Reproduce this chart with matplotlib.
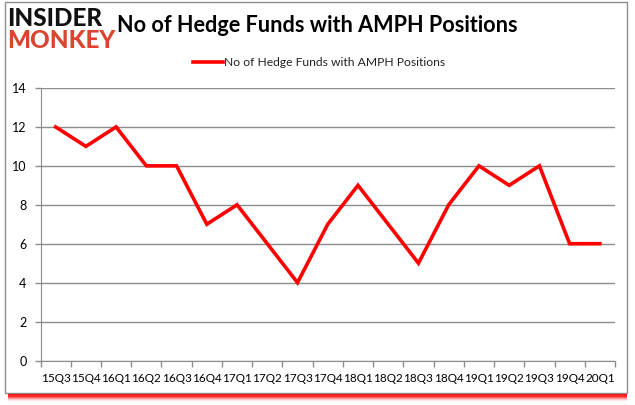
import matplotlib
matplotlib.use("Agg")
import matplotlib.pyplot as plt
from matplotlib.patches import Rectangle
import numpy as np

quarters = ["15Q3", "15Q4", "16Q1", "16Q2", "16Q3", "16Q4", "17Q1", "17Q2", "17Q3", "17Q4",
            "18Q1", "18Q2", "18Q3", "18Q4", "19Q1", "19Q2", "19Q3", "19Q4", "20Q1"]
funds = [12, 11, 12, 10, 10, 7, 8, 6, 4, 7, 9, 7, 5, 8, 10, 9, 10, 6, 6]
yticks = [0, 2, 4, 6, 8, 10, 12, 14]
series_name = "No of Hedge Funds with AMPH Positions"
title = "No of Hedge Funds with AMPH Positions"

W, H = 635, 405
fig = plt.figure(figsize=(W / 100, H / 100), dpi=100)
fig.patch.set_facecolor("white")

# red shadow under frame
for i, a in enumerate([1.0, 1.0, 0.85, 0.6, 0.4, 0.22, 0.1]):
    fig.patches.append(Rectangle((8 / W, (12 - 1.2 * (i + 1)) / H), 619 / W, 1.2 / H,
                                 transform=fig.transFigure, facecolor="red", alpha=a,
                                 edgecolor="none", zorder=-3))
# chart frame
fig.patches.append(Rectangle((5 / W, 12 / H), 622 / W, 391 / H, transform=fig.transFigure,
                             facecolor="white", edgecolor="#8c8c8c", linewidth=1.0, zorder=-2))

ax = fig.add_axes([40.5 / W, (H - 360.5) / H, (615 - 40.5) / W, (360.5 - 88) / H])
ax.set_zorder(2)
ax.set_facecolor("none")
x = np.arange(len(quarters))
ax.plot(x, funds, color="#ff0000", linewidth=2.6, solid_joinstyle="miter", zorder=3,
        label=series_name)

ax.set_xlim(-0.5, len(quarters) - 0.5)
ax.set_ylim(0, 14)
ax.set_yticks(yticks)
ax.set_yticklabels([str(v) for v in yticks])
ax.set_xticks(x)
ax.set_xticklabels(quarters)
ax.set_xticks(np.arange(-0.5, len(quarters), 1.0), minor=True)
ax.tick_params(axis="x", which="major", length=0, pad=9, labelsize=8.5, colors="black")
ax.tick_params(axis="x", which="minor", length=4, color="#8c8c8c", width=1)
ax.tick_params(axis="y", which="major", length=4, color="#8c8c8c", width=1, pad=6,
               labelsize=9, colors="black")
for lbl in ax.get_xticklabels() + ax.get_yticklabels():
    lbl.set_color("black")
    lbl.set_family("Lato")

ax.grid(axis="y", color="#8c8c8c", linewidth=1.0)
ax.set_axisbelow(True)
for s in ["top", "right"]:
    ax.spines[s].set_visible(False)
ax.spines["left"].set_color("#8c8c8c")
ax.spines["bottom"].set_color("#8c8c8c")

# title
fig.text(117 / W, 1 - 26 / H, title, fontsize=15.6, fontweight="bold", family="Lato",
         va="center", ha="left", color="black")

# legend
fig.lines.append(plt.Line2D([193 / W, 223 / W], [1 - 62 / H, 1 - 62 / H], color="#ff0000",
                            linewidth=2.6, transform=fig.transFigure))
fig.text(224 / W, 1 - 62 / H, series_name, fontsize=8.7, family="Lato",
         va="center", ha="left", color="#222222")

# logo
fig.text(7 / W, 1 - 18 / H, "INSIDER", fontsize=17.5, fontweight="black", family="Lato",
         va="center", ha="left", color="#111111")
fig.text(7 / W, 1 - 40 / H, "MONKEY", fontsize=17.5, fontweight="black", family="Lato",
         va="center", ha="left", color="#d9452e")

fig.savefig("out.png", dpi=100)
